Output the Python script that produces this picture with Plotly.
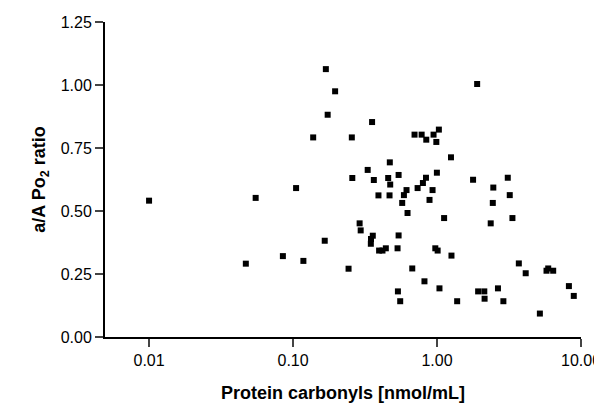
import plotly.graph_objects as go

carbonyls = [0.01, 0.055, 0.047, 0.085, 0.105, 0.118, 0.138, 0.169, 0.174, 0.196, 0.166, 0.243,
             1.90, 0.354, 0.256, 0.698, 0.782, 0.842, 0.946, 1.03, 0.989, 1.25, 0.470, 0.330,
             0.258, 0.364, 0.458, 0.541, 0.473, 0.998, 0.838, 0.798, 0.733, 0.614, 0.589, 0.931,
             0.392, 0.468, 0.573, 0.887, 0.624, 1.78, 3.10, 2.46, 3.20, 2.44, 1.12, 3.34, 2.36,
             0.290, 0.295, 0.358, 0.348, 0.347, 0.541, 0.396, 0.418, 0.441, 0.532, 0.973, 1.01,
             1.26, 3.70, 4.13, 5.92, 6.41, 5.76, 0.673, 0.818, 1.04, 0.535, 0.555, 1.38, 1.93,
             2.13, 2.14, 2.65, 2.89, 5.18, 8.24, 8.91]
ratio = [0.541, 0.552, 0.291, 0.321, 0.591, 0.302, 0.792, 1.063, 0.882, 0.975, 0.382, 0.271,
         1.004, 0.853, 0.792, 0.803, 0.803, 0.783, 0.803, 0.823, 0.774, 0.713, 0.693, 0.663,
         0.631, 0.623, 0.631, 0.643, 0.605, 0.652, 0.632, 0.611, 0.591, 0.583, 0.563, 0.583,
         0.562, 0.562, 0.532, 0.544, 0.492, 0.624, 0.632, 0.593, 0.563, 0.532, 0.472, 0.472, 0.451,
         0.451, 0.423, 0.402, 0.389, 0.370, 0.403, 0.343, 0.343, 0.352, 0.352, 0.352, 0.343,
         0.323, 0.292, 0.253, 0.272, 0.263, 0.263, 0.272, 0.221, 0.193, 0.181, 0.142, 0.142, 0.181,
         0.181, 0.152, 0.193, 0.142, 0.093, 0.202, 0.163]

x_ticks = [0.01, 0.1, 1, 10]
x_tick_labels = ["0.01", "0.10", "1.00", "10.00"]
y_ticks = [0, 0.25, 0.5, 0.75, 1.0, 1.25]
y_tick_labels = ["0.00", "0.25", "0.50", "0.75", "1.00", "1.25"]

fig = go.Figure(go.Scatter(x=carbonyls, y=ratio, mode="markers", cliponaxis=False,
                           marker=dict(symbol="square", size=6, color="black")))
fig.update_layout(
    width=602, height=410, plot_bgcolor="white", paper_bgcolor="white",
    margin=dict(l=97, r=29, t=14, b=81, autoexpand=False), showlegend=False,
    font=dict(family="Liberation Sans, Arial", size=16, color="black"),
)
fig.update_xaxes(type="log", range=[-2.306, 1.0], tickvals=x_ticks, ticktext=x_tick_labels,
                 ticks="outside", ticklen=8, tickwidth=2, showline=True, linewidth=2, linecolor="black",
                 showgrid=False, zeroline=False, automargin=False,
                 title=dict(text="<b>Protein carbonyls [nmol/mL]</b>", font=dict(size=18), standoff=18))
fig.update_yaxes(range=[0, 1.25], tickvals=y_ticks, ticktext=y_tick_labels,
                 ticks="outside", ticklen=8, tickwidth=2, showline=True, linewidth=2, linecolor="black",
                 showgrid=False, zeroline=False, automargin=False,
                 title=dict(text="<b>a/A Po<sub>2</sub> ratio</b>", font=dict(size=18), standoff=10))
fig.write_html("out.html")
